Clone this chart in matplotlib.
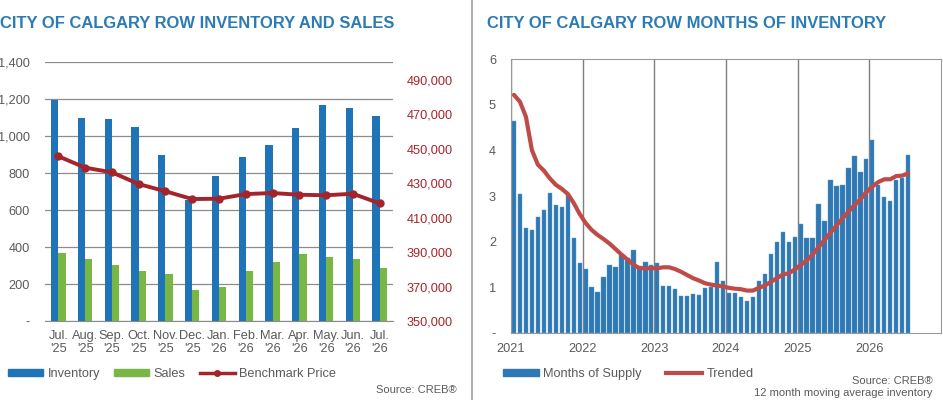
import matplotlib
matplotlib.use("Agg")
import matplotlib.pyplot as plt
from matplotlib.lines import Line2D
from matplotlib.patches import Patch
from matplotlib.ticker import FuncFormatter
import numpy as np

plt.rcParams['font.family'] = ['Liberation Sans', 'DejaVu Sans']

# ---------------- Data: left chart ----------------
months_left = ["Jul.\n'25", "Aug.\n'25", "Sep.\n'25", "Oct.\n'25", "Nov.\n'25", "Dec.\n'25",
               "Jan.\n'26", "Feb.\n'26", "Mar.\n'26", "Apr.\n'26", "May.\n'26", "Jun.\n'26", "Jul.\n'26"]
inventory = [1198, 1097, 1092, 1052, 897, 655, 782, 885, 955, 1043, 1169, 1150, 1112]
sales = [369, 337, 301, 272, 256, 169, 184, 268, 319, 360, 348, 335, 285]
benchmark = [445500, 438900, 436200, 429400, 425200, 420700, 420900, 423600, 424200,
             423200, 422900, 423800, 418200]

# ---------------- Data: right chart ----------------
years = ["2021", "2022", "2023", "2024", "2025", "2026"]
months_supply = [
    4.65, 3.04, 2.30, 2.25, 2.55, 2.69, 3.07, 2.80, 2.77, 3.05, 2.08, 1.54,
    1.40, 1.00, 0.90, 1.22, 1.50, 1.45, 1.71, 1.65, 1.81, 1.46, 1.55, 1.50,
    1.53, 1.04, 1.04, 0.96, 0.82, 0.81, 0.86, 0.83, 0.99, 1.00, 1.55, 1.14,
    0.88, 0.88, 0.80, 0.71, 0.79, 1.13, 1.30, 1.74, 1.99, 2.22, 1.99, 2.10,
    2.40, 2.09, 2.08, 2.83, 2.45, 3.36, 3.23, 3.25, 3.62, 3.87, 3.52, 3.82,
    4.23, 3.25, 2.98, 2.89, 3.36, 3.40, 3.90,
]
trended = [
    5.22, 5.07, 4.74, 4.01, 3.69, 3.56, 3.39, 3.25, 3.16, 3.05, 2.85, 2.61,
    2.41, 2.26, 2.15, 2.06, 1.96, 1.84, 1.72, 1.61, 1.50, 1.42, 1.42, 1.42,
    1.42, 1.44, 1.44, 1.40, 1.34, 1.27, 1.20, 1.15, 1.09, 1.06, 1.04, 1.02,
    0.99, 0.97, 0.96, 0.93, 0.93, 0.99, 1.04, 1.12, 1.20, 1.28, 1.31, 1.39,
    1.49, 1.59, 1.72, 1.88, 2.04, 2.20, 2.36, 2.51, 2.66, 2.80, 2.93, 3.09,
    3.21, 3.31, 3.37, 3.37, 3.44, 3.45, 3.50,
]

# ---------------- Style ----------------
W, H = 943, 400
BLUE = "#1f73b7"
GREEN = "#78b646"
DARKRED = "#a3252b"
TITLE_BLUE = "#2b7bb5"
GRAY_TXT = "#5a5a5a"
BAR_BLUE2 = "#2f78b4"
TREND_RED = "#be4b48"
FS = 9.2

fig = plt.figure(figsize=(W / 100, H / 100), dpi=100)


def px_axes(x0, y0, x1, y1):
    return fig.add_axes([x0 / W, 1 - y1 / H, (x1 - x0) / W, (y1 - y0) / H])


def pt(px):
    return px * 72 / 100


# separator line
fig.add_artist(Line2D([472 / W, 472 / W], [0, 1], color="#a0a0a0", lw=1.2, transform=fig.transFigure))

# ================= Left chart =================
axL = px_axes(45, 62.3, 393, 321)
x = np.arange(len(months_left))
bw = 0.27
axL.bar(x - bw / 2, inventory, width=bw, color=BLUE, zorder=2)
axL.bar(x + bw / 2, sales, width=bw, color=GREEN, zorder=2)
axL.set_xlim(-0.5, len(months_left) - 0.5)
axL.set_ylim(0, 1400)
axL.set_yticks(np.arange(0, 1401, 200))
axL.yaxis.set_major_formatter(FuncFormatter(lambda v, p: "-" if v == 0 else f"{int(v):,}"))
axL.grid(axis="y", color="#8c8c8c", lw=0.9, zorder=0)
axL.set_axisbelow(True)
for s in ["top", "right", "left"]:
    axL.spines[s].set_visible(False)
axL.spines["bottom"].set_color("#8c8c8c")
axL.set_xticks(x)
axL.set_xticklabels(months_left, linespacing=1.15)
axL.tick_params(axis="both", length=0, labelsize=FS, colors=GRAY_TXT)
axL.tick_params(axis="y", pad=pt(15))
axL.tick_params(axis="x", pad=pt(9))

axR = axL.twinx()
axR.plot(x, benchmark, color=DARKRED, lw=2.8, marker="o", ms=5, zorder=3)
axR.set_ylim(350000, 500000)
axR.set_yticks(np.arange(350000, 490001, 20000))
axR.yaxis.set_major_formatter(FuncFormatter(lambda v, p: f"{int(v):,}"))
axR.tick_params(axis="y", length=0, labelsize=FS, colors=DARKRED, pad=pt(14))
for s in ["top", "right", "left", "bottom"]:
    axR.spines[s].set_visible(False)

fig.text(0 / W, 1 - 24 / H, "CITY OF CALGARY ROW INVENTORY AND SALES", color=TITLE_BLUE,
         fontsize=11.9, fontweight="bold", ha="left", va="center")

handlesL = [Patch(color=BLUE, label="Inventory"), Patch(color=GREEN, label="Sales"),
            Line2D([0], [0], color=DARKRED, lw=2.5, marker="o", ms=4, label="Benchmark Price")]
legL = fig.legend(handles=handlesL, loc="center left", bbox_to_anchor=(8 / W, 1 - 374 / H),
                  ncol=3, frameon=False, fontsize=FS, handlelength=2.75, handleheight=0.5,
                  handletextpad=0.35, columnspacing=1.1, borderpad=0, borderaxespad=0)
for t in legL.get_texts():
    t.set_color(GRAY_TXT)
fig.text(457 / W, 1 - 390 / H, "Source: CREB®", fontsize=8, color=GRAY_TXT, ha="right", va="center")

# ================= Right chart =================
ax2 = px_axes(511, 59.3, 941, 333)
n = len(months_supply)
xm = np.arange(n) + 0.5
ax2.bar(xm, months_supply, width=0.72, color=BAR_BLUE2, edgecolor="#5a9bd0", linewidth=0.3, zorder=2)
ax2.plot(xm, trended, color=TREND_RED, lw=3.0, zorder=3, solid_capstyle="round")
ax2.set_xlim(0, 72)
ax2.set_ylim(0, 6)
ax2.set_yticks(range(0, 7))
ax2.yaxis.set_major_formatter(FuncFormatter(lambda v, p: "-" if v == 0 else f"{int(v)}"))
ax2.set_xticks(np.arange(0, 61, 12))
ax2.set_xticklabels(years)
ax2.grid(axis="x", color="#7f7f7f", lw=1.0, zorder=1)
ax2.set_axisbelow(True)
for s in ax2.spines.values():
    s.set_color("#9a9a9a")
ax2.tick_params(axis="both", length=0, labelsize=FS, colors=GRAY_TXT)
ax2.tick_params(axis="y", pad=pt(15))
ax2.tick_params(axis="x", pad=pt(10))

fig.text(487 / W, 1 - 24 / H, "CITY OF CALGARY ROW MONTHS OF INVENTORY", color=TITLE_BLUE,
         fontsize=11.9, fontweight="bold", ha="left", va="center")

handlesR = [Patch(color=BAR_BLUE2, label="Months of Supply"),
            Line2D([0], [0], color=TREND_RED, lw=3, label="Trended")]
legR = fig.legend(handles=handlesR, loc="center left", bbox_to_anchor=(503 / W, 1 - 374 / H),
                  ncol=2, frameon=False, fontsize=FS, handlelength=2.8, handleheight=0.5,
                  handletextpad=0.35, columnspacing=1.9, borderpad=0, borderaxespad=0)
for t in legR.get_texts():
    t.set_color(GRAY_TXT)
fig.text(933 / W, 1 - 381 / H, "Source: CREB®", fontsize=8, color=GRAY_TXT, ha="right", va="center")
fig.text(933 / W, 1 - 393 / H, "12 month moving average inventory", fontsize=8, color=GRAY_TXT,
         ha="right", va="center")

fig.savefig("out.png", dpi=100)
